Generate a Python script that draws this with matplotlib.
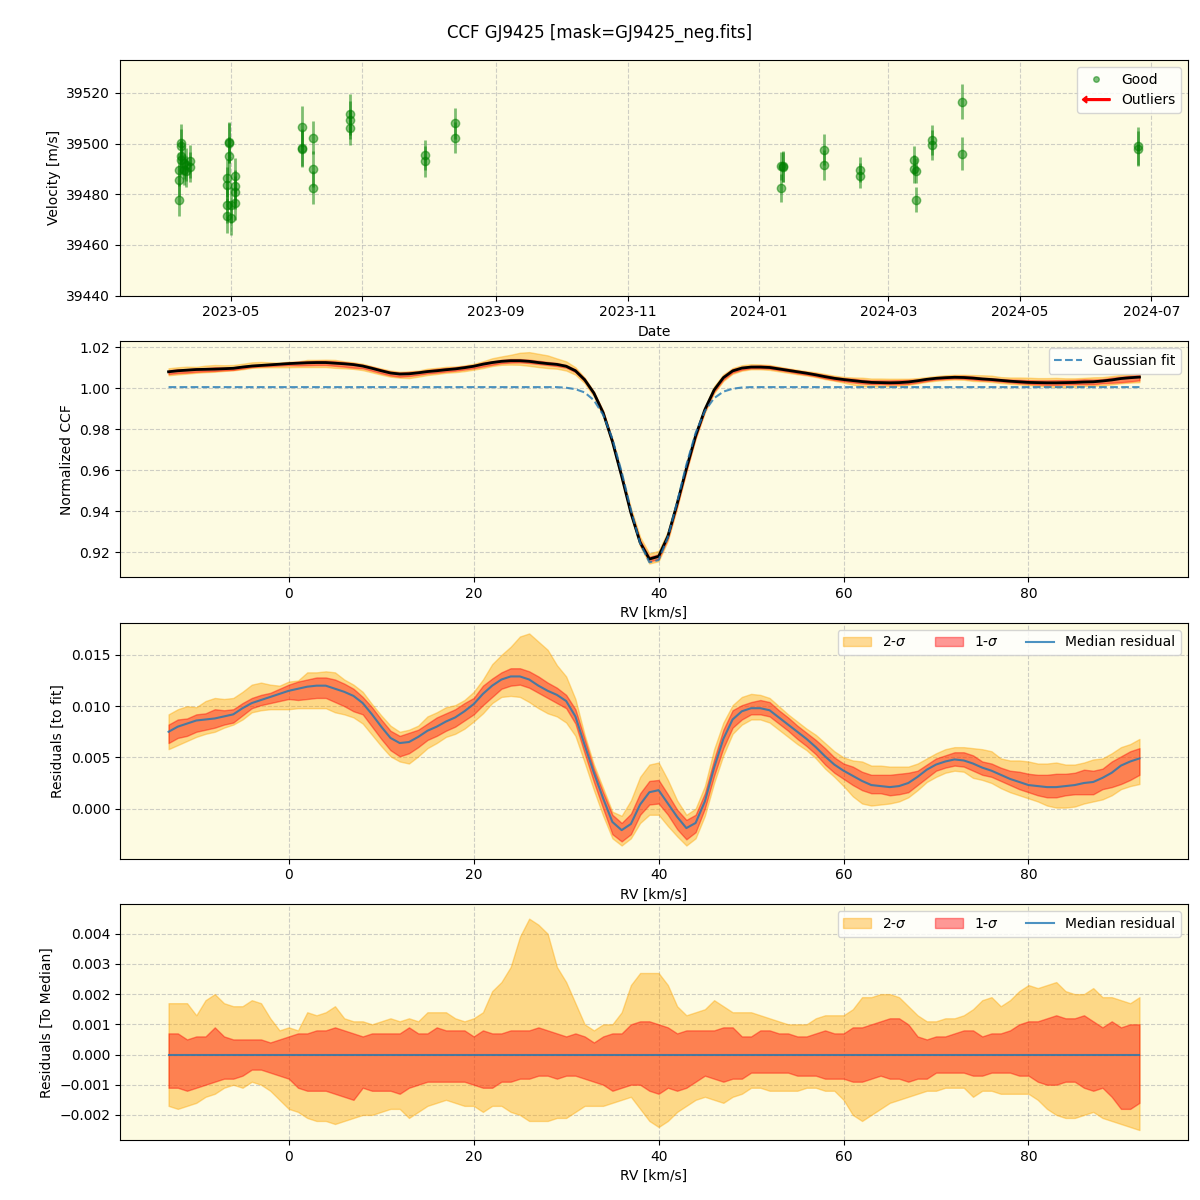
import datetime as dt
import numpy as np
import matplotlib
matplotlib.use("Agg")
from matplotlib import pyplot as plt
import matplotlib.dates as mdates
import matplotlib.patches as mpatches
from matplotlib.legend_handler import HandlerPatch
from matplotlib.lines import Line2D

TITLE = "CCF GJ9425 [mask=GJ9425_neg.fits]"
BG = '#fdfbe2'

# --- RV time series (good points) ---
obs_dates = ["2023-04-07", "2023-04-07", "2023-04-07",
             "2023-04-08", "2023-04-08", "2023-04-08", "2023-04-08",
             "2023-04-09", "2023-04-09", "2023-04-10", "2023-04-10",
             "2023-04-12", "2023-04-12",
             "2023-04-29", "2023-04-29", "2023-04-29", "2023-04-29",
             "2023-04-30", "2023-04-30", "2023-04-30",
             "2023-05-01", "2023-05-01",
             "2023-05-03", "2023-05-03", "2023-05-03", "2023-05-03",
             "2023-06-03", "2023-06-03", "2023-06-03",
             "2023-06-08", "2023-06-08", "2023-06-08",
             "2023-06-25", "2023-06-25", "2023-06-25",
             "2023-07-30", "2023-07-30", "2023-08-13", "2023-08-13",
             "2024-01-11", "2024-01-11", "2024-01-12", "2024-01-12",
             "2024-01-31", "2024-01-31", "2024-02-17", "2024-02-17",
             "2024-03-13", "2024-03-13", "2024-03-14", "2024-03-14",
             "2024-03-21", "2024-03-21", "2024-04-04", "2024-04-04",
             "2024-06-25", "2024-06-25"]
velocity = [39489.7, 39485.5, 39477.8,
            39500.3, 39498.9, 39495.0, 39493.7,
            39492.4, 39489.7, 39491.7, 39489.0,
            39493.0, 39490.8,
            39486.4, 39483.8, 39475.8, 39471.5,
            39500.5, 39500.3, 39495.2,
            39475.8, 39470.6,
            39487.3, 39483.1, 39480.7, 39476.5,
            39506.7, 39498.4, 39498.0,
            39502.4, 39490.0, 39482.6,
            39511.5, 39509.5, 39506.3,
            39495.6, 39493.0, 39508.0, 39502.4,
            39491.0, 39482.6, 39491.0, 39490.8,
            39497.6, 39491.6, 39489.7, 39487.3,
            39493.6, 39490.0, 39489.3, 39477.8,
            39501.5, 39499.5, 39516.6, 39496.0,
            39499.0, 39498.0]
velocity_err = [6.5, 6.0, 6.5,
                7.5, 7.0, 6.5, 6.5,
                6.5, 6.0, 6.5, 6.0,
                6.5, 6.0,
                7.5, 7.0, 7.0, 7.0,
                8.0, 8.0, 7.5,
                7.0, 6.5,
                7.0, 6.5, 6.5, 6.5,
                8.0, 7.5, 7.0,
                6.5, 7.0, 6.5,
                8.0, 7.5, 7.0,
                6.0, 6.0, 6.0, 6.0,
                5.5, 5.5, 6.0, 6.0,
                6.0, 6.0, 5.0, 5.0,
                5.5, 5.5, 5.0, 5.0,
                6.0, 6.0, 7.0, 6.5,
                7.5, 7.0]

# --- CCF profile on the RV grid (km/s) ---
rv = np.arange(-13, 93)

gauss_fit = [1.0006] * 43 + [
    1.0003, 0.9996, 0.9980, 0.9942, 0.9871, 0.9754, 0.9592, 0.9407, 0.9243, 0.9150,
    0.9161, 0.9272, 0.9444, 0.9627, 0.9782, 0.9889, 0.9952, 0.9984, 0.9998, 1.0004,
] + [1.0006] * 43

median_resid = [
    0.0075, 0.0080, 0.0083, 0.0086, 0.0087, 0.0088, 0.0090, 0.0092, 0.0098, 0.0103,
    0.0106, 0.0109, 0.0112, 0.0115, 0.0117, 0.0119, 0.0120, 0.0120, 0.0117, 0.0114,
    0.0110, 0.0103, 0.0092, 0.0080, 0.0069, 0.0064, 0.0065, 0.0070, 0.0076, 0.0080,
    0.0085, 0.0089, 0.0095, 0.0102, 0.0112, 0.0120, 0.0126, 0.0129, 0.0129, 0.0126,
    0.0120, 0.0115, 0.0111, 0.0105, 0.0090, 0.0062, 0.0035, 0.0010, -0.0013, -0.0021,
    -0.0015, 0.0004, 0.0016, 0.0018, 0.0005, -0.0008, -0.0019, -0.0014, 0.0007, 0.0040,
    0.0068, 0.0087, 0.0095, 0.0098, 0.0098, 0.0096, 0.0089, 0.0082, 0.0075, 0.0068,
    0.0060, 0.0051, 0.0043, 0.0037, 0.0032, 0.0027, 0.0023, 0.0022, 0.0021, 0.0022,
    0.0025, 0.0031, 0.0038, 0.0043, 0.0046, 0.0048, 0.0047, 0.0044, 0.0040, 0.0037,
    0.0033, 0.0029, 0.0026, 0.0023, 0.0022, 0.0021, 0.0021, 0.0022, 0.0023, 0.0025,
    0.0026, 0.0030, 0.0035, 0.0042, 0.0046, 0.0049]

# percentile offsets relative to the median residual
upper_2sig = [
    0.0017, 0.0017, 0.0017, 0.0013, 0.0018, 0.0020, 0.0017, 0.0016, 0.0016, 0.0018,
    0.0017, 0.0012, 0.0008, 0.0009, 0.0008, 0.0014, 0.0013, 0.0014, 0.0016, 0.0012,
    0.0011, 0.0011, 0.0010, 0.0011, 0.0012, 0.0011, 0.0012, 0.0011, 0.0014, 0.0014,
    0.0014, 0.0012, 0.0011, 0.0012, 0.0014, 0.0021, 0.0024, 0.0029, 0.0039, 0.0045,
    0.0043, 0.0040, 0.0029, 0.0024, 0.0017, 0.0010, 0.0008, 0.0010, 0.0010, 0.0014,
    0.0023, 0.0027, 0.0027, 0.0027, 0.0023, 0.0016, 0.0013, 0.0014, 0.0015, 0.0018,
    0.0016, 0.0014, 0.0014, 0.0014, 0.0013, 0.0012, 0.0011, 0.0010, 0.0010, 0.0010,
    0.0012, 0.0013, 0.0013, 0.0013, 0.0015, 0.0019, 0.0019, 0.0020, 0.0020, 0.0019,
    0.0016, 0.0013, 0.0011, 0.0011, 0.0012, 0.0012, 0.0013, 0.0015, 0.0018, 0.0019,
    0.0016, 0.0018, 0.0021, 0.0023, 0.0022, 0.0023, 0.0024, 0.0021, 0.0020, 0.0020,
    0.0022, 0.0019, 0.0019, 0.0018, 0.0017, 0.0019]
upper_1sig = [
    0.0007, 0.0007, 0.0005, 0.0006, 0.0006, 0.0009, 0.0006, 0.0005, 0.0005, 0.0005,
    0.0005, 0.0004, 0.0005, 0.0006, 0.0007, 0.0007, 0.0008, 0.0008, 0.0009, 0.0008,
    0.0007, 0.0006, 0.0007, 0.0007, 0.0007, 0.0007, 0.0009, 0.0007, 0.0007, 0.0009,
    0.0008, 0.0008, 0.0008, 0.0006, 0.0008, 0.0007, 0.0007, 0.0008, 0.0008, 0.0008,
    0.0009, 0.0008, 0.0007, 0.0006, 0.0007, 0.0006, 0.0004, 0.0006, 0.0007, 0.0007,
    0.0010, 0.0011, 0.0011, 0.0010, 0.0009, 0.0007, 0.0008, 0.0008, 0.0008, 0.0008,
    0.0009, 0.0009, 0.0006, 0.0006, 0.0008, 0.0008, 0.0007, 0.0007, 0.0006, 0.0006,
    0.0007, 0.0008, 0.0007, 0.0007, 0.0009, 0.0009, 0.0010, 0.0011, 0.0012, 0.0012,
    0.0010, 0.0006, 0.0005, 0.0006, 0.0006, 0.0007, 0.0008, 0.0008, 0.0006, 0.0007,
    0.0007, 0.0008, 0.0010, 0.0011, 0.0011, 0.0012, 0.0013, 0.0012, 0.0012, 0.0013,
    0.0011, 0.0009, 0.0011, 0.0009, 0.0010, 0.0010]
lower_1sig = [
    -0.0011, -0.0011, -0.0012, -0.0011, -0.0010, -0.0009, -0.0008, -0.0008, -0.0007, -0.0005,
    -0.0005, -0.0006, -0.0007, -0.0008, -0.0011, -0.0012, -0.0012, -0.0012, -0.0013, -0.0014,
    -0.0015, -0.0011, -0.0012, -0.0012, -0.0012, -0.0013, -0.0011, -0.0010, -0.0009, -0.0009,
    -0.0009, -0.0009, -0.0009, -0.0010, -0.0011, -0.0011, -0.0009, -0.0009, -0.0008, -0.0008,
    -0.0007, -0.0007, -0.0008, -0.0007, -0.0007, -0.0008, -0.0009, -0.0010, -0.0012, -0.0011,
    -0.0010, -0.0010, -0.0012, -0.0013, -0.0011, -0.0012, -0.0011, -0.0009, -0.0007, -0.0008,
    -0.0009, -0.0008, -0.0008, -0.0006, -0.0006, -0.0006, -0.0006, -0.0006, -0.0007, -0.0007,
    -0.0007, -0.0008, -0.0008, -0.0008, -0.0009, -0.0009, -0.0008, -0.0007, -0.0008, -0.0008,
    -0.0009, -0.0008, -0.0008, -0.0006, -0.0006, -0.0006, -0.0006, -0.0007, -0.0007, -0.0006,
    -0.0006, -0.0006, -0.0007, -0.0007, -0.0009, -0.0010, -0.0010, -0.0009, -0.0009, -0.0011,
    -0.0012, -0.0011, -0.0014, -0.0018, -0.0018, -0.0016]
lower_2sig = [
    -0.0017, -0.0018, -0.0017, -0.0016, -0.0014, -0.0013, -0.0011, -0.0010, -0.0011, -0.0009,
    -0.0010, -0.0012, -0.0015, -0.0018, -0.0019, -0.0021, -0.0022, -0.0022, -0.0023, -0.0022,
    -0.0021, -0.0020, -0.0020, -0.0019, -0.0018, -0.0018, -0.0021, -0.0019, -0.0017, -0.0016,
    -0.0015, -0.0016, -0.0017, -0.0017, -0.0019, -0.0017, -0.0017, -0.0019, -0.0020, -0.0022,
    -0.0022, -0.0022, -0.0021, -0.0021, -0.0019, -0.0017, -0.0017, -0.0017, -0.0016, -0.0015,
    -0.0014, -0.0018, -0.0022, -0.0024, -0.0022, -0.0019, -0.0017, -0.0015, -0.0014, -0.0015,
    -0.0016, -0.0014, -0.0013, -0.0011, -0.0011, -0.0012, -0.0012, -0.0012, -0.0012, -0.0011,
    -0.0011, -0.0012, -0.0012, -0.0015, -0.0020, -0.0022, -0.0020, -0.0018, -0.0016, -0.0015,
    -0.0014, -0.0013, -0.0012, -0.0012, -0.0011, -0.0011, -0.0011, -0.0014, -0.0012, -0.0012,
    -0.0013, -0.0013, -0.0013, -0.0013, -0.0015, -0.0018, -0.0020, -0.0021, -0.0021, -0.0020,
    -0.0019, -0.0021, -0.0022, -0.0023, -0.0024, -0.0025]


def make_arrow(legend, orig_handle, xdescent, ydescent, width, height, fontsize):
    return mpatches.FancyArrow(width - xdescent, 0.5 * height - ydescent, -width, 0,
                               width=0.18 * height, head_width=0.7 * height,
                               head_length=0.45 * height, length_includes_head=True,
                               color='red')


def style_axis(ax):
    ax.set_facecolor(BG)
    ax.grid(True, linestyle='--', color='#b0b0b0', alpha=0.6)
    ax.set_axisbelow(True)


def plot_bands(ax, center):
    c = np.asarray(center)
    ax.fill_between(rv, c + np.asarray(lower_2sig), c + np.asarray(upper_2sig),
                    color='orange', alpha=0.4, label=r'2-$\sigma$')
    ax.fill_between(rv, c + np.asarray(lower_1sig), c + np.asarray(upper_1sig),
                    color='red', alpha=0.4, label=r'1-$\sigma$')


fig, axes = plt.subplots(4, 1, figsize=(12, 12), dpi=100)
plt.subplots_adjust(left=0.1, right=0.99, top=0.95, bottom=0.05, hspace=0.195)
fig.suptitle(TITLE, fontsize=12, y=0.98)

# panel 1: velocities
ax = axes[0]
style_axis(ax)
dates = [dt.datetime.strptime(d, "%Y-%m-%d") for d in obs_dates]
ax.errorbar(dates, velocity, yerr=velocity_err, fmt='o', color='green',
            alpha=0.5, markersize=6, elinewidth=2)
good = Line2D([], [], marker='o', color='green', alpha=0.5, linestyle='None', markersize=4)
outl = mpatches.FancyArrow(0, 0, 1, 0, color='red')
ax.legend([good, outl], ['Good', 'Outliers'], loc='upper right',
          handler_map={mpatches.FancyArrow: HandlerPatch(patch_func=make_arrow)})
ax.xaxis.set_major_locator(mdates.MonthLocator(bymonth=[1, 3, 5, 7, 9, 11]))
ax.xaxis.set_major_formatter(mdates.DateFormatter('%Y-%m'))
ax.set_xlim(dt.datetime(2023, 3, 10, 12), dt.datetime(2024, 7, 18))
ax.set_ylim(39440, 39533)
ax.set_xlabel("Date")
ax.set_ylabel("Velocity [m/s]")

# panel 2: CCF and Gaussian fit
ccf = np.asarray(gauss_fit) + np.asarray(median_resid)
ax = axes[1]
style_axis(ax)
plot_bands(ax, ccf)
ax.plot(rv, ccf, color='black', lw=2)
ax.plot(rv, gauss_fit, '--', color='tab:blue', alpha=0.8, lw=1.5, label='Gaussian fit')
handles, labels = ax.get_legend_handles_labels()
ax.legend([handles[-1]], [labels[-1]], loc='upper right')
ax.set_ylim(0.9078, 1.0229)
ax.set_xlabel("RV [km/s]")
ax.set_ylabel("Normalized CCF")

# panel 3: residuals to the fit
ax = axes[2]
style_axis(ax)
plot_bands(ax, median_resid)
ax.plot(rv, median_resid, color='tab:blue', alpha=0.8, lw=1.5, label='Median residual')
ax.legend(loc='upper right', ncol=3)
ax.set_ylim(-0.00487, 0.01812)
ax.set_xlabel("RV [km/s]")
ax.set_ylabel("Residuals [to fit]")

# panel 4: residuals to the median
ax = axes[3]
style_axis(ax)
zero = np.asarray(median_resid) - np.asarray(median_resid)
plot_bands(ax, zero)
ax.plot(rv, zero, color='tab:blue', alpha=0.8, lw=1.5, label='Median residual')
ax.legend(loc='upper right', ncol=3)
ax.set_ylim(-0.00283, 0.00497)
ax.set_xlabel("RV [km/s]")
ax.set_ylabel("Residuals [To Median]")

for ax in axes[1:]:
    ax.set_xlim(-18.25, 97.25)

plt.savefig("out.png")
